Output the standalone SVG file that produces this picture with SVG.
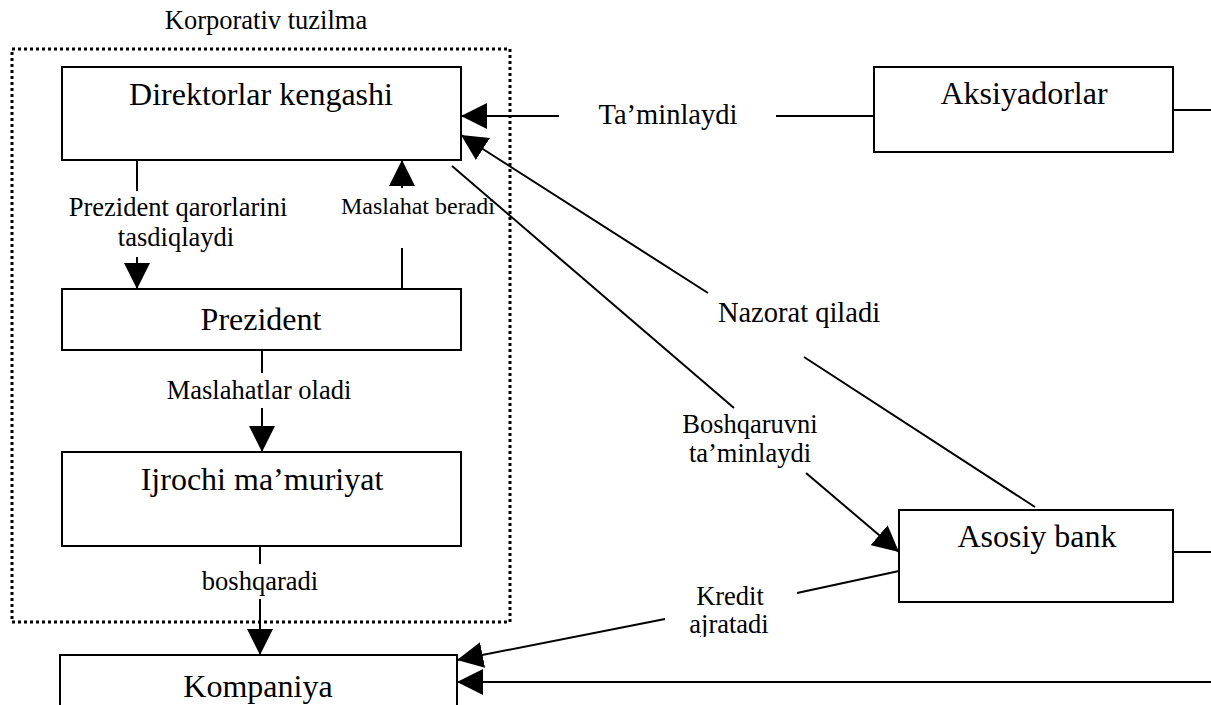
<svg xmlns="http://www.w3.org/2000/svg" width="1211" height="705" viewBox="0 0 1211 705">
<style>
text{font-family:"Liberation Serif","Times New Roman",serif;fill:#000;text-anchor:middle}
.node rect{fill:#fff;stroke:#000;stroke-width:2}
.nt{font-size:32px}
.lb{font-size:26.5px}
#connectors line{stroke:#000;stroke-width:2}
.arr{marker-end:url(#ah)}
</style>
<defs>
<marker id="ah" markerUnits="userSpaceOnUse" markerWidth="26" markerHeight="26" viewBox="0 0 26 26" refX="26" refY="13" orient="auto">
<path d="M0,0 L26,13 L0,26 z" fill="#000"/>
</marker>
<clipPath id="cut"><rect x="670" y="610" width="120" height="27"/></clipPath>
</defs>
<rect width="1211" height="705" fill="#fff"/>
<g id="corporate-structure">
<rect x="12" y="49" width="498" height="573" fill="none" stroke="#000" stroke-width="3" stroke-dasharray="3 3"/>
<text x="266" y="29" style="font-size:26.5px">Korporativ tuzilma</text>
</g>
<g id="connectors">
<line x1="137" y1="160" x2="137" y2="191"/>
<line class="arr" x1="137" y1="257" x2="137" y2="289"/>
<line x1="402" y1="289" x2="402" y2="248"/>
<line class="arr" x1="402" y1="188" x2="402" y2="160"/>
<line x1="262" y1="350" x2="262" y2="373"/>
<line class="arr" x1="262" y1="408" x2="262" y2="452"/>
<line x1="260" y1="546" x2="260" y2="564"/>
<line class="arr" x1="260" y1="599" x2="260" y2="655"/>
<line x1="874" y1="116" x2="776" y2="116"/>
<line class="arr" x1="559" y1="116" x2="461" y2="116"/>
<line x1="1035" y1="507" x2="804" y2="357"/>
<line class="arr" x1="708" y1="293" x2="461" y2="135"/>
<line x1="452" y1="166" x2="734" y2="408"/>
<line class="arr" x1="806" y1="473" x2="899" y2="552"/>
<line x1="899" y1="571" x2="797" y2="593"/>
<line class="arr" x1="665" y1="619" x2="457" y2="660"/>
<line x1="1173" y1="110" x2="1211" y2="110"/>
<line x1="1173" y1="552" x2="1211" y2="552"/>
<line class="arr" x1="1211" y1="682" x2="457" y2="682"/>
<text class="lb" x="178" y="216">Prezident qarorlarini</text>
<text class="lb" x="176" y="246">tasdiqlaydi</text>
<text x="418" y="214" style="font-size:24px">Maslahat beradi</text>
<text class="lb" x="259" y="399">Maslahatlar oladi</text>
<text class="lb" x="260" y="590">boshqaradi</text>
<text x="668" y="124" style="font-size:28.5px">Ta’minlaydi</text>
<text x="799" y="322" style="font-size:28.5px">Nazorat qiladi</text>
<text class="lb" x="750" y="433">Boshqaruvni</text>
<text class="lb" x="750" y="462">ta’minlaydi</text>
<text class="lb" x="730" y="605">Kredit</text>
<text class="lb" x="729" y="633" clip-path="url(#cut)">ajratadi</text>
</g>
<g id="direktorlar" class="node">
<rect x="62" y="67" width="399" height="93"/>
<text class="nt" x="261" y="105">Direktorlar kengashi</text>
</g>
<g id="prezident" class="node">
<rect x="62" y="289" width="399" height="61"/>
<text class="nt" x="261" y="330">Prezident</text>
</g>
<g id="ijrochi" class="node">
<rect x="62" y="452" width="399" height="94"/>
<text class="nt" x="262" y="490">Ijrochi ma’muriyat</text>
</g>
<g id="kompaniya" class="node">
<rect x="60" y="655" width="397" height="100"/>
<text class="nt" x="258" y="697">Kompaniya</text>
</g>
<g id="aksiyadorlar" class="node">
<rect x="874" y="67" width="299" height="85"/>
<text class="nt" x="1024" y="104">Aksiyadorlar</text>
</g>
<g id="asosiy-bank" class="node">
<rect x="899" y="510" width="274" height="92"/>
<text class="nt" x="1037" y="547">Asosiy bank</text>
</g>
</svg>
